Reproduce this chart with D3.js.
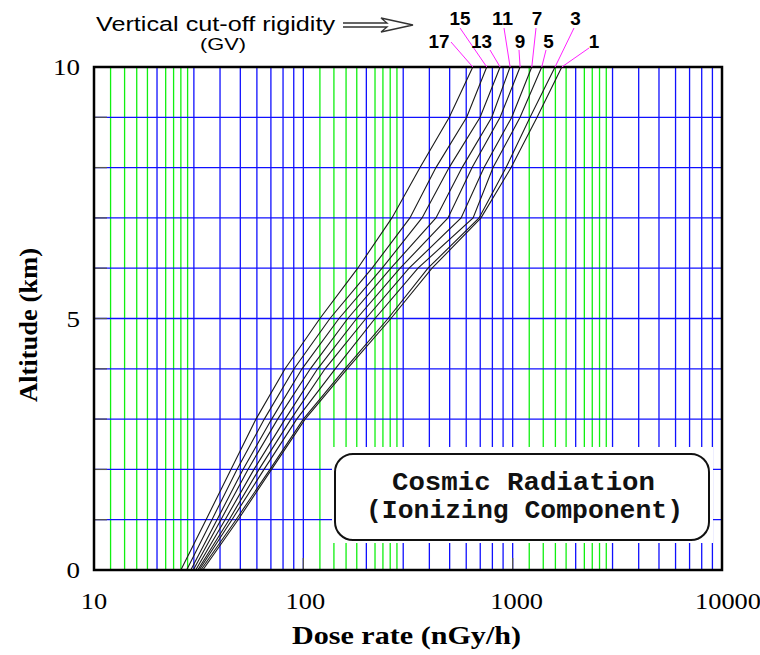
<!DOCTYPE html>
<html><head><meta charset="utf-8">
<script src="https://cdn.jsdelivr.net/npm/d3@7"></script>
<style>html,body{margin:0;padding:0;background:#fff;} svg{display:block;}</style>
</head><body>
<svg id="chart" width="760" height="655"></svg>
<script>
// ---------------- data ----------------
const altitudeKm = [0, 1, 2, 3, 4, 5, 6, 7, 8, 9, 10];
const rigidityGV = [17, 15, 13, 11, 9, 7, 5, 3, 1];
const dose17 = [26.0, 34.3, 45.1, 59.4, 81.8, 120, 182, 265, 361, 498, 645];
const dose15 = [27.7, 36.6, 48.2, 65.1, 90.3, 134, 213, 323, 430, 603, 752];
const dose13 = [29.0, 38.7, 51.5, 70.6, 98.6, 148, 238, 369, 497, 699, 871];
const dose11 = [29.8, 40.4, 54.4, 75.4, 108, 163, 262, 430, 573, 795, 972];
const dose9  = [30.6, 42.3, 58.1, 81.8, 117, 180, 290, 491, 640, 871, 1085];
const dose7  = [31.3, 44.2, 61.4, 87.3, 127, 199, 320, 567, 730, 990, 1234];
const dose5  = [31.8, 45.6, 64.9, 93.0, 142, 220, 353, 647, 806, 1085, 1377];
const dose3  = [32.4, 47.7, 69.3, 100, 158, 254, 394, 691, 930, 1211, 1594];
const dose1  = [33.1, 48.8, 70.5, 102, 162, 262, 412, 706, 983, 1308, 1717];
const xTickValues = [10, 100, 1000, 10000];
const yTickValues = [0, 5, 10];
const yGridValues = [1, 2, 3, 4, 5, 6, 7, 8, 9];
const minorGreenSteps = [1.2, 1.4, 1.6, 1.8, 2.2, 2.4, 2.6, 2.8];
const minorBlueSteps = [1, 2, 3, 4, 5, 6, 7, 8, 9];
const decades = [10, 100, 1000];
const seriesDose = [dose17, dose15, dose13, dose11, dose9, dose7, dose5, dose3, dose1];

// ---------------- layout ----------------
const plot = {left: 94, right: 722, top: 67, bottom: 570};
const BLUE = "#1010ff", GREEN = "#10f010";
const labelPos = {  // label anchor and leader start, per rigidity
  17: {x: 439, y: 47.5, lx: 451, ly: 42},
  15: {x: 460, y: 25,   lx: 460, ly: 28},
  13: {x: 481.5, y: 47.5, lx: 490, ly: 50},
  11: {x: 502.5, y: 25,   lx: 504, ly: 28},
  9:  {x: 520, y: 47.5, lx: 519, ly: 50},
  7:  {x: 537, y: 25,   lx: 536, ly: 28},
  5:  {x: 548.5, y: 47.5, lx: 546, ly: 50},
  3:  {x: 575.5, y: 25,   lx: 574, ly: 28},
  1:  {x: 594, y: 47.5, lx: 589, ly: 48}
};

const svg = d3.select("#chart");
svg.append("rect").attr("width", 760).attr("height", 655).attr("fill", "#fff");

const x = d3.scaleLog().domain([10, 10000]).range([plot.left, plot.right]);
const y = d3.scaleLinear().domain([0, 10]).range([plot.bottom, plot.top]);

const crisp = v => Math.round(v) + 0.5;

// grid
const greenVals = [], blueVals = [];
decades.forEach(b => {
  minorGreenSteps.forEach(s => greenVals.push(b * s));
  minorBlueSteps.forEach(s => blueVals.push(b * s));
});
const GW = 1.3;
const gGreen = svg.append("g").attr("stroke", GREEN).attr("stroke-width", GW);
gGreen.selectAll("line").data(greenVals).join("line")
  .attr("x1", d => x(d)).attr("x2", d => x(d))
  .attr("y1", plot.top).attr("y2", plot.bottom);
const gBlue = svg.append("g").attr("stroke", BLUE).attr("stroke-width", GW);
gBlue.selectAll("line").data(blueVals).join("line")
  .attr("x1", d => x(d)).attr("x2", d => x(d))
  .attr("y1", plot.top).attr("y2", plot.bottom);
const gH = svg.append("g").attr("stroke", BLUE).attr("stroke-width", GW);
gH.selectAll("line").data(yGridValues).join("line")
  .attr("x1", plot.left).attr("x2", plot.right)
  .attr("y1", d => y(d)).attr("y2", d => y(d));

// ticks (gray, inside)
const gTick = svg.append("g").attr("stroke", "#555").attr("stroke-width", 1.3);
gTick.selectAll("line.yt").data(yGridValues).join("line").attr("class", "yt")
  .attr("x1", plot.left).attr("x2", plot.left + 13)
  .attr("y1", d => y(d)).attr("y2", d => y(d));
gTick.selectAll("line.xt").data([100, 1000]).join("line").attr("class", "xt")
  .attr("x1", d => x(d)).attr("x2", d => x(d))
  .attr("y1", plot.bottom - 12).attr("y2", plot.bottom);

// legend box knock-out
svg.append("rect").attr("x", 332).attr("y", 447).attr("width", 381).attr("height", 96).attr("fill", "#fff");
svg.append("rect").attr("x", 335).attr("y", 454).attr("width", 374).attr("height", 86)
  .attr("rx", 18).attr("ry", 18).attr("fill", "#fff").attr("stroke", "#111").attr("stroke-width", 2);
const mono = "'Liberation Mono', 'DejaVu Sans Mono', monospace";
svg.append("text").attr("x", 392).attr("y", 490)
  .attr("font-family", mono).attr("font-size", 25).attr("font-weight", "bold")
  .attr("textLength", 263).attr("lengthAdjust", "spacingAndGlyphs").attr("fill", "#111")
  .text("Cosmic Radiation");
svg.append("text").attr("x", 366).attr("y", 518)
  .attr("font-family", mono).attr("font-size", 25).attr("font-weight", "bold")
  .attr("textLength", 317).attr("lengthAdjust", "spacingAndGlyphs").attr("fill", "#111")
  .text("(Ionizing Component)");

// curves
const line = d3.line().x(d => x(d[0])).y(d => y(d[1]));
svg.append("g").selectAll("path").data(seriesDose).join("path")
  .attr("d", s => line(s.map((v, i) => [v, altitudeKm[i]])))
  .attr("fill", "none").attr("stroke", "#1a1a1a").attr("stroke-width", 1.1);

// frame
svg.append("rect").attr("x", plot.left).attr("y", plot.top)
  .attr("width", plot.right - plot.left).attr("height", plot.bottom - plot.top)
  .attr("fill", "none").attr("stroke", "#000").attr("stroke-width", 2.5);

// axis labels
const serif = "'Liberation Serif', 'Times New Roman', serif";
svg.append("g").selectAll("text").data(xTickValues).join("text")
  .attr("x", d => x(d) + (String(d).length - 2) * 2)
  .attr("y", 608.5).attr("text-anchor", "middle")
  .attr("font-family", serif).attr("font-size", 23)
  .attr("textLength", d => String(d).length * 13.2).attr("lengthAdjust", "spacingAndGlyphs")
  .text(d => d);
svg.append("g").selectAll("text").data(yTickValues).join("text")
  .attr("x", 80).attr("y", d => y(d) + 8).attr("text-anchor", "end")
  .attr("font-family", serif).attr("font-size", 24)
  .attr("textLength", d => String(d).length * 13.5).attr("lengthAdjust", "spacingAndGlyphs")
  .text(d => d);
svg.append("text").attr("x", 292).attr("y", 644)
  .attr("font-family", serif).attr("font-size", 26).attr("font-weight", "bold")
  .attr("textLength", 229).attr("lengthAdjust", "spacingAndGlyphs")
  .text("Dose rate (nGy/h)");
svg.append("text").attr("transform", "translate(37,402) rotate(-90)")
  .attr("font-family", serif).attr("font-size", 26).attr("font-weight", "bold")
  .attr("textLength", 154).attr("lengthAdjust", "spacingAndGlyphs")
  .text("Altitude (km)");

// annotation
const sans = "'Liberation Sans', Arial, sans-serif";
svg.append("text").attr("x", 96).attr("y", 31)
  .attr("font-family", sans).attr("font-size", 20.5)
  .attr("textLength", 239).attr("lengthAdjust", "spacingAndGlyphs")
  .text("Vertical cut-off rigidity");
svg.append("text").attr("x", 200).attr("y", 50)
  .attr("font-family", sans).attr("font-size", 17)
  .attr("textLength", 46).attr("lengthAdjust", "spacingAndGlyphs")
  .text("(GV)");
svg.append("path").attr("d", "M343,23 L387,23 L381,18 L413,25 L381,32 L387,27 L343,27")
  .attr("fill", "#fff").attr("stroke", "#333").attr("stroke-width", 1.3);

// leader lines and rigidity labels
const topDose = seriesDose.map(s => s[s.length - 1]);
svg.append("g").selectAll("line").data(rigidityGV).join("line")
  .attr("x1", r => labelPos[r].lx).attr("y1", r => labelPos[r].ly)
  .attr("x2", (r, i) => x(topDose[i])).attr("y2", y(10))
  .attr("stroke", "#ff22ff").attr("stroke-width", 1);
svg.append("g").selectAll("text").data(rigidityGV).join("text")
  .attr("x", r => labelPos[r].x).attr("y", r => labelPos[r].y)
  .attr("text-anchor", "middle")
  .attr("font-family", sans).attr("font-size", 18).attr("font-weight", "bold")
  .attr("textLength", r => String(r).length * 10.5).attr("lengthAdjust", "spacingAndGlyphs")
  .text(r => r);
</script>
</body></html>
